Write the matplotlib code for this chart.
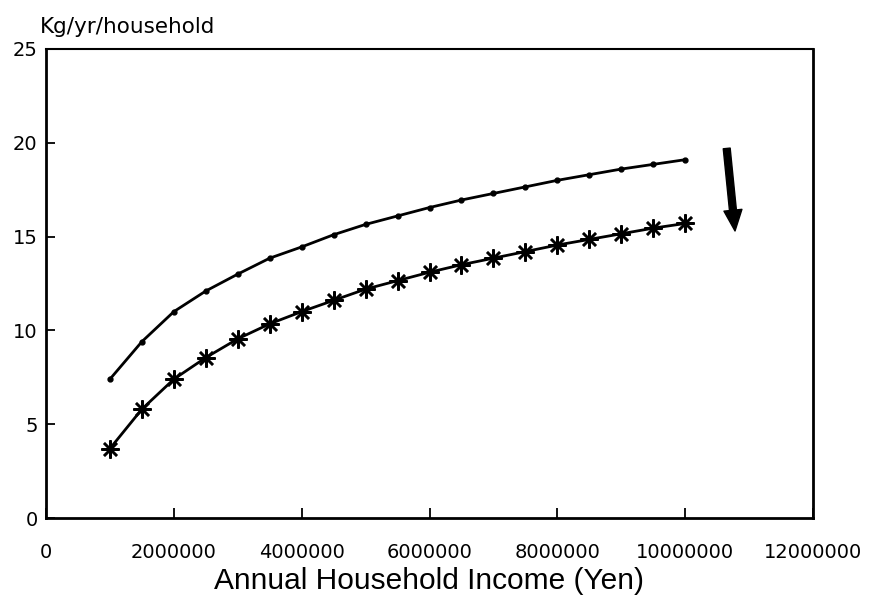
import matplotlib
matplotlib.use("Agg")
import matplotlib.pyplot as plt

# Annual household income (Yen)
income = [1000000, 1500000, 2000000, 2500000, 3000000, 3500000, 4000000,
          4500000, 5000000, 5500000, 6000000, 6500000, 7000000, 7500000,
          8000000, 8500000, 9000000, 9500000, 10000000]

# Kg/yr/household, current scenario (dots)
upper_kg = [7.4, 9.4, 11.0, 12.1, 13.0, 13.85, 14.45, 15.1, 15.65, 16.1,
            16.55, 16.95, 17.3, 17.65, 18.0, 18.3, 18.6, 18.85, 19.1]

# Kg/yr/household, reduced scenario (asterisks)
lower_kg = [3.7, 5.8, 7.4, 8.55, 9.55, 10.35, 11.0, 11.6, 12.2, 12.65,
            13.1, 13.5, 13.85, 14.2, 14.55, 14.85, 15.15, 15.45, 15.7]

x_ticks = [0, 2000000, 4000000, 6000000, 8000000, 10000000, 12000000]
y_ticks = [0, 5, 10, 15, 20, 25]

plt.rcParams['font.family'] = ['DejaVu Sans']

fig = plt.figure(figsize=(8.73, 6.05), dpi=100)
ax = fig.add_axes([46 / 873, 87 / 605, 767 / 873, 469 / 605])

ax.plot(income, upper_kg, color='black', lw=2.0, marker='o', ms=3.5,
        mfc='black', mec='black')
ax.plot(income, lower_kg, color='black', lw=2.0, marker=(8, 2, 0), ms=13,
        mew=1.8, mec='black')

ax.set_xlim(0, 12000000)
ax.set_ylim(0, 25)
ax.set_xticks(x_ticks)
ax.set_xticklabels([str(v) for v in x_ticks])
ax.set_yticks(y_ticks)
ax.set_yticklabels([str(v) for v in y_ticks])

ax.tick_params(axis='x', direction='in', length=7, width=1.3, pad=18,
               labelsize=14)
ax.tick_params(axis='y', direction='in', length=6.5, width=1.3, pad=6,
               labelsize=14)

for side in ['left', 'bottom', 'right']:
    ax.spines[side].set_linewidth(2.0)
ax.spines['top'].set_linewidth(1.5)

# downward arrow to the right of the curves
ax.annotate('', xy=(10780000, 15.3), xytext=(10650000, 19.7),
            arrowprops=dict(facecolor='black', edgecolor='black',
                            width=5, headwidth=13, headlength=15, shrink=0))

fig.text(40 / 873, 1 - 27 / 605, 'Kg/yr/household', fontsize=15.5,
         ha='left', va='center')
fig.text(429.5 / 873, 1 - 581 / 605, 'Annual Household Income (Yen)',
         fontsize=21.5, ha='center', va='center', family='Liberation Sans')

fig.savefig('out.png', dpi=100)
